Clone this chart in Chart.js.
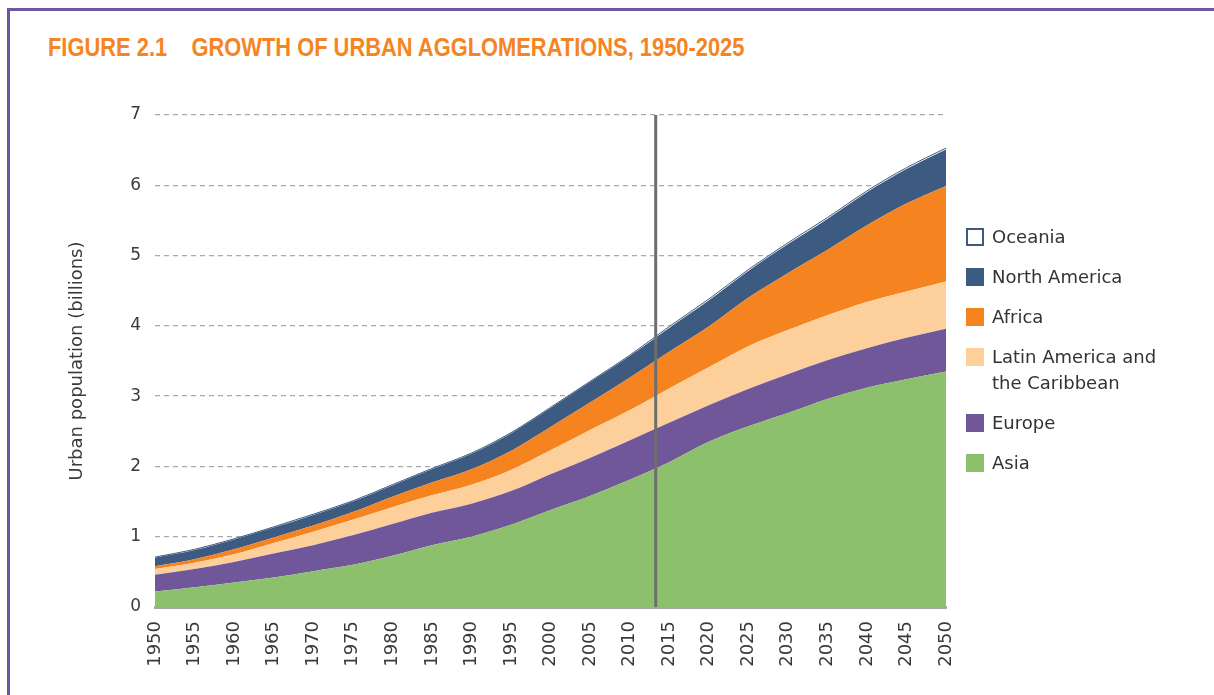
<!DOCTYPE html>
<html>
<head>
<meta charset="utf-8">
<script src="https://cdn.jsdelivr.net/npm/chart.js@4.4.1/dist/chart.umd.min.js"></script>
<style>
  html, body { margin: 0; padding: 0; background: #fff; }
  body { width: 1214px; height: 695px; position: relative; overflow: hidden; font-family: "DejaVu Sans", sans-serif; }
  #frame { position: absolute; left: 7px; top: 8px; width: 1300px; height: 800px; border: 3px solid #6f57a0; }
  #title { position: absolute; left: 48px; top: 33px; font-family: "Liberation Sans", sans-serif; font-weight: bold;
           font-size: 25px; color: #f58523; white-space: pre; transform: scaleX(0.875); transform-origin: left top; }
  #wrap { position: absolute; left: 0; top: 0; width: 1214px; height: 695px; }
  #legend { position: absolute; left: 966px; top: 224px; list-style: none; margin: 0; padding: 0; }
  #legend li { display: flex; align-items: flex-start; margin-bottom: 14px; font-size: 18px; line-height: 26px; color: #333; }
  #legend .box { width: 18px; height: 18px; margin-top: 4px; margin-right: 8px; box-sizing: border-box; flex: none; }
  #legend .txt { width: 185px; }
</style>
</head>
<body>
<div id="frame"></div>
<div id="title">FIGURE 2.1    GROWTH OF URBAN AGGLOMERATIONS, 1950-2025</div>
<div id="wrap"><canvas id="chart" width="1214" height="695"></canvas></div>
<ul id="legend"></ul>
<script>
// urban population, billions
const years = [1950, 1955, 1960, 1965, 1970, 1975, 1980, 1985, 1990, 1995, 2000,
               2005, 2010, 2015, 2020, 2025, 2030, 2035, 2040, 2045, 2050];
const asia = [0.22, 0.28, 0.35, 0.42, 0.51, 0.60, 0.73, 0.88, 1.00, 1.17, 1.38,
              1.58, 1.81, 2.06, 2.35, 2.57, 2.76, 2.96, 3.12, 3.24, 3.35];
const europe = [0.24, 0.26, 0.29, 0.34, 0.37, 0.42, 0.45, 0.46, 0.47, 0.48, 0.51,
                0.54, 0.56, 0.56, 0.52, 0.53, 0.55, 0.55, 0.56, 0.59, 0.61];
const latinAmerica = [0.08, 0.09, 0.11, 0.15, 0.19, 0.22, 0.24, 0.25, 0.27, 0.30, 0.34,
                      0.40, 0.43, 0.49, 0.54, 0.61, 0.63, 0.64, 0.66, 0.66, 0.67];
const africa = [0.04, 0.05, 0.07, 0.08, 0.09, 0.11, 0.15, 0.18, 0.22, 0.27, 0.33,
                0.39, 0.46, 0.52, 0.58, 0.69, 0.81, 0.93, 1.09, 1.25, 1.36];
const northAmerica = [0.12, 0.13, 0.14, 0.14, 0.15, 0.15, 0.16, 0.19, 0.22, 0.25, 0.27,
                      0.29, 0.31, 0.34, 0.37, 0.38, 0.41, 0.44, 0.47, 0.49, 0.52];
const oceania = [0.01, 0.01, 0.01, 0.01, 0.01, 0.01, 0.01, 0.01, 0.01, 0.01, 0.01,
                 0.01, 0.01, 0.02, 0.02, 0.02, 0.02, 0.02, 0.02, 0.02, 0.02];
const yTicks = [0, 1, 2, 3, 4, 5, 6, 7];
const markerYear = 2013.3;

const pts = arr => arr.map((v, i) => ({ x: years[i], y: v }));

const series = [
  { label: 'Asia', data: asia, color: '#8dc06d' },
  { label: 'Europe', data: europe, color: '#6f5799' },
  { label: 'Latin America and the Caribbean', data: latinAmerica, color: '#fdcf9b' },
  { label: 'Africa', data: africa, color: '#f58420' },
  { label: 'North America', data: northAmerica, color: '#3d5a80' },
  { label: 'Oceania', data: oceania, color: '#ffffff', border: '#3d5a80' }
];

const datasets = series.map((s, i) => ({
  label: s.label,
  data: pts(s.data),
  backgroundColor: s.color,
  borderColor: s.border || s.color,
  borderWidth: s.border ? 1 : 0,
  pointRadius: 0,
  fill: i === 0 ? 'origin' : '-1',
  tension: 0.3,
  cubicInterpolationMode: 'monotone'
}));

// vertical marker line
const markerLine = {
  id: 'markerLine',
  afterDatasetsDraw(chart) {
    const { ctx, chartArea, scales } = chart;
    const x = scales.x.getPixelForValue(markerYear);
    ctx.save();
    ctx.strokeStyle = '#6e6e6e';
    ctx.lineWidth = 3;
    ctx.beginPath();
    ctx.moveTo(x, chartArea.top);
    ctx.lineTo(x, chartArea.bottom);
    ctx.stroke();
    ctx.restore();
  }
};

const tickFont = { family: 'DejaVu Sans', size: 17 };

new Chart(document.getElementById('chart'), {
  type: 'line',
  data: { datasets },
  plugins: [markerLine],
  options: {
    responsive: false,
    animation: false,
    layout: { padding: { top: 115, right: 268, bottom: 0, left: 0 } },
    plugins: { legend: { display: false }, tooltip: { enabled: false } },
    scales: {
      x: {
        type: 'linear',
        min: years[0],
        max: years[years.length - 1],
        afterBuildTicks: scale => { scale.ticks = years.map(v => ({ value: v })); },
        afterFit: scale => { scale.height = 88; },
        grid: { display: false, drawTicks: false },
        border: { display: true, color: '#a6a6a6', width: 3 },
        ticks: { color: '#3a3a3a', font: { family: 'DejaVu Sans', size: 18 }, maxRotation: 90, minRotation: 90,
                 padding: 14, autoSkip: false, callback: v => String(v) }
      },
      y: {
        stacked: true,
        min: 0,
        max: 7,
        afterBuildTicks: scale => { scale.ticks = yTicks.map(v => ({ value: v })); },
        afterFit: scale => { scale.width = 155; },
        grid: { color: '#a9a9a9', lineWidth: 1.3, drawTicks: false },
        border: { display: false, dash: [5, 4] },
        ticks: { color: '#3a3a3a', font: tickFont, padding: 14 },
        title: { display: true, text: 'Urban population (billions)', color: '#3a3a3a',
                 font: { family: 'DejaVu Sans', size: 18 }, padding: { top: 67, bottom: 0 } }
      }
    }
  }
});

// html legend, top series first
const legend = document.getElementById('legend');
series.slice().reverse().forEach(s => {
  const li = document.createElement('li');
  const box = document.createElement('span');
  box.className = 'box';
  box.style.background = s.color;
  if (s.border) box.style.border = '2px solid ' + s.border;
  const txt = document.createElement('span');
  txt.className = 'txt';
  txt.textContent = s.label;
  li.appendChild(box);
  li.appendChild(txt);
  legend.appendChild(li);
});
</script>
</body>
</html>
